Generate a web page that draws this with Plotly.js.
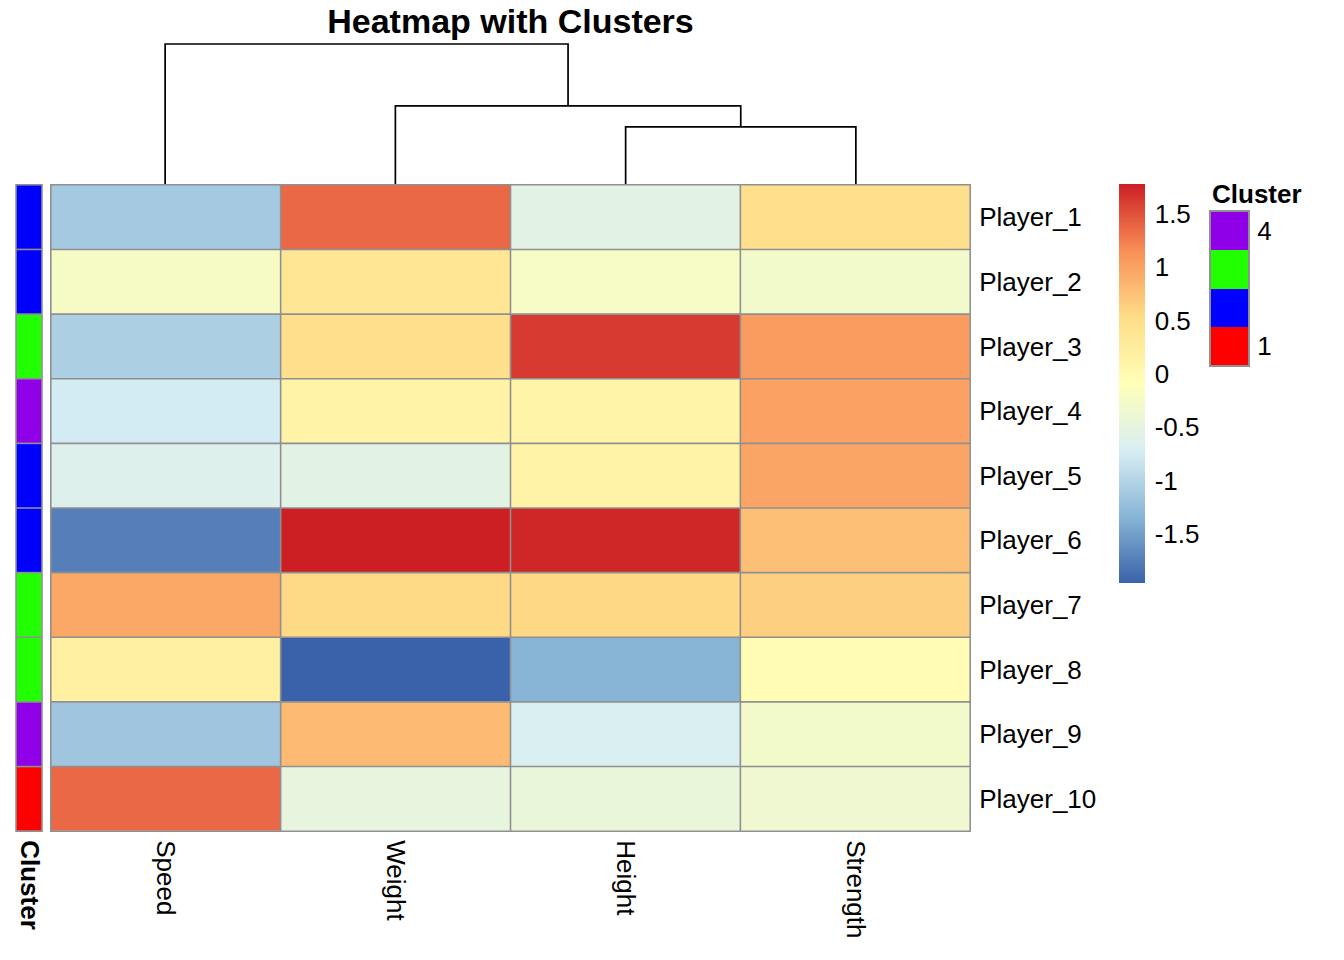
<!DOCTYPE html>
<html><head><meta charset="utf-8">
<script src="https://cdn.plot.ly/plotly-3.0.1.min.js"></script>
<style>html,body{margin:0;padding:0;background:#fff}#chart{width:1344px;height:960px}</style>
</head><body><div id="chart"></div>
<script>
// ---------------- data ----------------
const players = ["Player_1","Player_2","Player_3","Player_4","Player_5","Player_6","Player_7","Player_8","Player_9","Player_10"];
const features = ["Speed","Weight","Height","Strength"];
const speed    = [-1.12, -0.24, -1.05, -0.75, -0.63, -1.74,  0.96,  0.19, -1.16,  1.37];
const weight   = [ 1.37,  0.37,  0.49,  0.13, -0.56,  1.78,  0.56, -1.96,  0.81, -0.48];
const heightV  = [-0.56, -0.22,  1.63,  0.12,  0.13,  1.74,  0.57, -1.34, -0.68, -0.43];
const strength = [ 0.50, -0.29,  1.05,  1.01,  0.98,  0.77,  0.64, -0.05, -0.29, -0.34];
const clusters = [2, 2, 3, 4, 2, 2, 3, 3, 4, 1];
const clusterLevels = [1, 2, 3, 4];
const clusterLegendText = ["1", "", "", "4"];
const colorTickVals = [-1.5, -1, -0.5, 0, 0.5, 1, 1.5];
const colorTickText = ["-1.5", "-1", "-0.5", "0", "0.5", "1", "1.5"];
// column dendrogram (R hclust style: negative = leaf, positive = earlier merge)
const dendroMerge  = [[-3, -4], [-2, 1], [-1, 2]];
const dendroHeight = [1.63, 2.23, 4.0];

// ---------------- styles ----------------
const W = 1344, H = 960;
const FONT = "Liberation Sans, Arial, sans-serif";
const clusterColors = ["#FF0000", "#0000FF", "#21FF00", "#8F00E8"];
// reversed RdYlBu (7 classes), as rendered in the reference
const palette = ["#3A62AA","#88B5D6","#D8EEF4","#FFFFB8","#FEDD88","#F98E57","#CC1F24"];
const borderColor = "#909090";

const px = v => v / W;
const py = v => 1 - v / H;

const z = players.map((p, i) => [speed[i], weight[i], heightV[i], strength[i]]);
const allVals = [].concat(speed, weight, heightV, strength);
const zmin = Math.min(...allVals), zmax = Math.max(...allVals);

const colorscale = palette.map((c, i) => [i / (palette.length - 1), c]);

const nc = clusterLevels.length;
const clusterScale = [];
clusterColors.forEach((c, i) => { clusterScale.push([i / nc, c]); clusterScale.push([(i + 1) / nc, c]); });

const traces = [];
traces.push({
  type: "heatmap", x: features, y: players, z: z,
  zmin: zmin, zmax: zmax, colorscale: colorscale,
  xaxis: "x", yaxis: "y", hoverinfo: "x+y+z",
  colorbar: {
    x: px(1119), xanchor: "left", xref: "paper", xpad: 0,
    y: py(184), yanchor: "top", yref: "paper", ypad: 0,
    lenmode: "pixels", len: 399, thickness: 26, thicknessmode: "pixels",
    outlinewidth: 0, tickmode: "array", tickvals: colorTickVals, ticktext: colorTickText,
    ticks: "outside", ticklen: 5, tickcolor: "rgba(0,0,0,0)",
    tickfont: {family: FONT, size: 26, color: "#000"}
  }
});
traces.push({
  type: "heatmap", x: ["Cluster"], y: players, z: clusters.map(c => [c]),
  zmin: 0.5, zmax: nc + 0.5, colorscale: clusterScale, showscale: false,
  xaxis: "x2", yaxis: "y"
});
traces.push({
  type: "heatmap", x: [0], y: clusterLevels, z: clusterLevels.map(c => [c]),
  zmin: 0.5, zmax: nc + 0.5, colorscale: clusterScale, showscale: false,
  xaxis: "x3", yaxis: "y3", hoverinfo: "skip"
});

// dendrogram
const nodeX = [], nodeH = [];
function childPos(c){ return c < 0 ? [(-c) - 1, 0] : [nodeX[c - 1], nodeH[c - 1]]; }
dendroMerge.forEach((m, i) => {
  const [xa, ha] = childPos(m[0]);
  const [xb, hb] = childPos(m[1]);
  const h = dendroHeight[i];
  nodeX.push((xa + xb) / 2); nodeH.push(h);
  traces.push({
    type: "scatter", mode: "lines", x: [xa, xa, xb, xb], y: [ha, h, h, hb],
    xaxis: "x4", yaxis: "y4", line: {color: "#000", width: 1.7},
    hoverinfo: "skip", showlegend: false
  });
});
const rootH = Math.max(...dendroHeight);
const dendroPad = 1.03;

// grid shapes
const shapes = [];
const gl = {color: borderColor, width: 1.6};
for (let i = 0; i <= features.length; i++)
  shapes.push({type: "line", xref: "x", yref: "y domain", x0: i - 0.5, x1: i - 0.5, y0: 0, y1: 1, line: gl});
for (let j = 0; j <= players.length; j++) {
  shapes.push({type: "line", xref: "x domain", yref: "y", x0: 0, x1: 1, y0: j - 0.5, y1: j - 0.5, line: gl});
  shapes.push({type: "line", xref: "x2 domain", yref: "y", x0: 0, x1: 1, y0: j - 0.5, y1: j - 0.5, line: gl});
}
[0, 1].forEach(e => shapes.push({type: "line", xref: "x2 domain", yref: "y domain", x0: e, x1: e, y0: 0, y1: 1, line: gl}));

const noAxis = {showgrid: false, zeroline: false, showline: false, fixedrange: true};
const layout = {
  width: W, height: H, margin: {l: 0, r: 0, t: 0, b: 0},
  paper_bgcolor: "#fff", plot_bgcolor: "rgba(0,0,0,0)",
  font: {family: FONT, size: 26, color: "#000"},
  showlegend: false,
  title: {text: "<b>Heatmap with Clusters</b>", font: {family: FONT, size: 34, color: "#000"},
          x: px(510.5), xanchor: "center", xref: "paper", y: py(21), yanchor: "middle", yref: "paper"},
  xaxis: Object.assign({}, noAxis, {domain: [px(50), px(971)], anchor: "y", type: "category",
          tickangle: 90, ticks: "outside", ticklen: 2, tickcolor: "rgba(0,0,0,0)",
          tickfont: {family: FONT, size: 26, color: "#000"}}),
  yaxis: Object.assign({}, noAxis, {domain: [py(832), py(184)], anchor: "x", side: "right", type: "category",
          autorange: "reversed", ticks: "outside", ticklen: 2, tickcolor: "rgba(0,0,0,0)",
          tickfont: {family: FONT, size: 26, color: "#000"}}),
  xaxis2: Object.assign({}, noAxis, {domain: [px(16), px(42)], anchor: "y", type: "category",
          tickangle: 90, ticks: "outside", ticklen: 2, tickcolor: "rgba(0,0,0,0)",
          tickmode: "array", tickvals: ["Cluster"], ticktext: ["<b>Cluster</b>"],
          tickfont: {family: FONT, size: 26, color: "#000"}}),
  xaxis3: Object.assign({}, noAxis, {domain: [px(1211), px(1248)], anchor: "y3", range: [-0.5, 0.5],
          ticks: "", showticklabels: false, showline: true, mirror: true, linecolor: borderColor, linewidth: 2}),
  yaxis3: Object.assign({}, noAxis, {domain: [py(365), py(212)], anchor: "x3", side: "right", range: [0.5, nc + 0.5],
          tickmode: "array", tickvals: clusterLevels, ticktext: clusterLegendText,
          ticks: "outside", ticklen: 2, tickcolor: "rgba(0,0,0,0)",
          showline: true, mirror: true, linecolor: borderColor, linewidth: 2,
          tickfont: {family: FONT, size: 26, color: "#000"}}),
  xaxis4: Object.assign({}, noAxis, {domain: [px(50), px(971)], anchor: "y4", range: [-0.5, features.length - 0.5], visible: false}),
  yaxis4: Object.assign({}, noAxis, {domain: [py(184), py(184 - (184 - 44) * dendroPad)], anchor: "x4",
          range: [0, rootH * dendroPad], visible: false}),
  annotations: [{
    text: "<b>Cluster</b>", xref: "paper", yref: "paper", x: px(1210), y: py(194),
    xanchor: "left", yanchor: "middle", showarrow: false,
    font: {family: FONT, size: 26, color: "#000"}
  }],
  shapes: shapes
};

Plotly.newPlot("chart", traces, layout, {displayModeBar: false, staticPlot: true});
</script>
</body></html>
